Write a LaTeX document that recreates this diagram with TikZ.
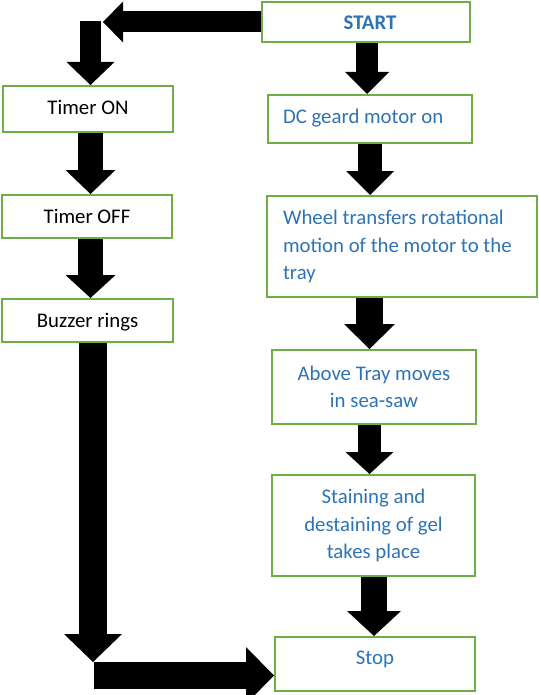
\documentclass[tikz,border=0pt]{standalone}
\usepackage{fontspec}
\setmainfont{Carlito}
\usetikzlibrary{arrows.meta,calc}
\definecolor{txtblue}{HTML}{2E74B5}
\definecolor{boxgreen}{HTML}{70AD47}
\pgfdeclarelayer{bg}
\pgfsetlayers{bg,main}
\tikzset{
  box/.style={draw=boxgreen, fill=white, line width=2pt, rectangle, inner ysep=0pt, inner xsep=0pt,
    font=\fontsize{20.8}{27.5}\selectfont, align=center},
  sline/.style={text height=14pt, text depth=5pt},
  bluetext/.style={text=txtblue},
  blk/.style n args={3}{line width=#1, draw=black, -{Triangle[width=#2, length=#3, line width=0pt]}},
}
\begin{document}
\begin{tikzpicture}[x=1pt,y=-1pt]
\useasboundingbox (0,0) rectangle (538,695);
% boxes
\node[box,bluetext,minimum width=208pt,minimum height=40pt,text height=20pt,text depth=5pt] (start) at (366,22) {\hspace*{8pt}\textbf{START}};
\node[box,sline,bluetext,minimum width=204pt,minimum height=48pt,text width=174pt,align=flush left] (dc) at (370,119) {DC geard motor on};
\node[box,bluetext,minimum width=270pt,minimum height=101pt,text width=238pt,align=flush left] (wheel) at (402,246.5) {\mbox{Wheel transfers rotational}\\\mbox{motion of the motor to the}\\tray};
\node[box,bluetext,minimum width=204pt,minimum height=74pt] (above) at (374,387) {Above Tray moves\\in sea-saw};
\node[box,bluetext,minimum width=203pt,minimum height=101pt] (stain) at (373.5,525.5) {Staining and\\destaining of gel\\takes place};
\node[box,bluetext,minimum width=200pt,minimum height=54pt,text height=14pt,text depth=12.6pt] (stop) at (375,664) {Stop};
\node[box,minimum width=170pt,minimum height=46pt,text height=16pt,text depth=5pt] (ton) at (88,109) {Timer ON};
\node[box,minimum width=170pt,minimum height=43pt,text height=18pt,text depth=5pt] (toff) at (87,216.5) {Timer OFF};
\node[box,minimum width=171pt,minimum height=43pt,text height=18pt,text depth=5pt] (buzz) at (87.5,320.5) {Buzzer rings};
% helper coordinates
\coordinate (c1) at (103,22);
\coordinate (c2) at (90.5,21);
\coordinate (c3) at (93,662);
\coordinate (c4) at (94,675.5);
\coordinate (a1) at ([xshift=1pt]start.south);
\coordinate (a2) at (dc.south);
\coordinate (a3) at ([xshift=-4.5pt]above.north);
\coordinate (a4) at ([xshift=-4.5pt]above.south);
\coordinate (a5) at ([xshift=0.5pt]stain.south);
\coordinate (b1) at ([xshift=2.5pt]ton.south);
\coordinate (b2) at ([xshift=3.5pt]toff.south);
\begin{pgfonlayer}{bg}
\fill[white] (0,0) rectangle (538,695);
% left column
\draw[blk={21pt}{41pt}{20pt}] (start.west) -- (c1);
\draw[blk={21pt}{48pt}{23pt}] (c2) -- (c2 |- ton.north);
\draw[blk={25pt}{50pt}{24pt}] (b1) -- (b1 |- toff.north);
\draw[blk={25pt}{50pt}{23pt}] (b2) -- (b2 |- buzz.north);
\draw[blk={28pt}{58pt}{28pt}] (buzz.south -| c3) -- (c3);
\draw[blk={27pt}{57pt}{28pt}] (c4) -- (c4 -| stop.west);
% right column
\draw[blk={22pt}{44pt}{22pt}] (a1) -- (a1 |- dc.north);
\draw[blk={24pt}{48pt}{24pt}] (a2) -- (a2 |- wheel.north);
\draw[blk={27pt}{51pt}{25pt}] (a3 |- wheel.south) -- (a3);
\draw[blk={23pt}{48pt}{22pt}] (a4) -- (a4 |- stain.north);
\draw[blk={26pt}{54pt}{25pt}] (a5) -- (a5 |- stop.north);
\end{pgfonlayer}
\end{tikzpicture}
\end{document}
